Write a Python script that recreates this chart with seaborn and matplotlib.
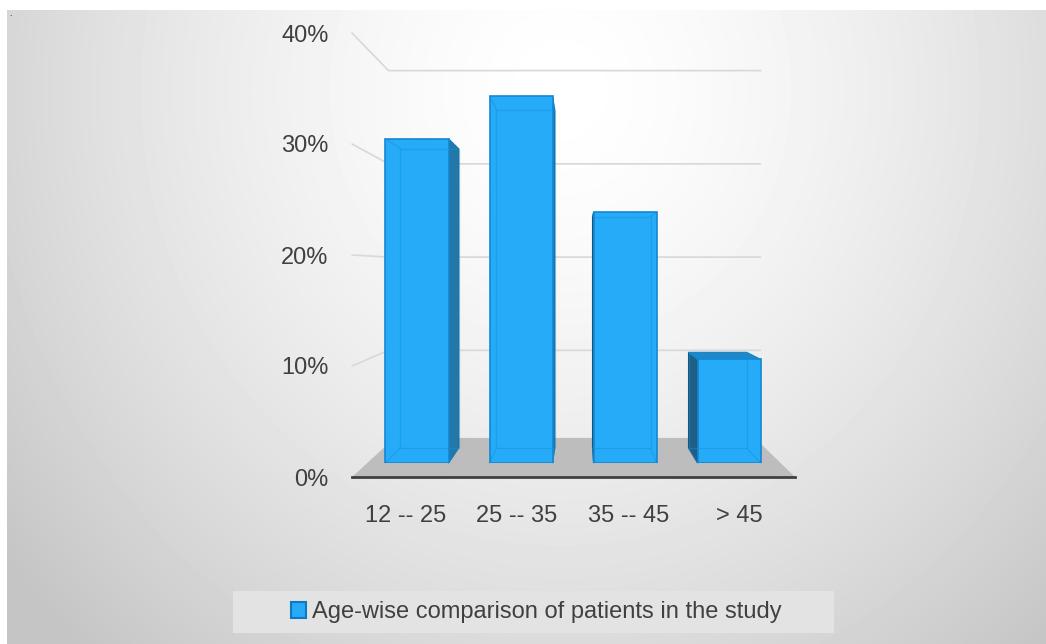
import numpy as np
import pandas as pd
import seaborn as sns
import matplotlib.pyplot as plt
from matplotlib.patches import Polygon, Rectangle, Patch

# Data
categories = ["12 -- 25", "25 -- 35", "35 -- 45", "> 45"]
share = [31.3, 35.4, 24.2, 10.0]
y_ticks = [0, 10, 20, 30, 40]
series_label = "Age-wise comparison of patients in the study"

W, H = 1046, 644
sns.set_style("white")
plt.rcParams['font.family'] = ['Liberation Sans', 'DejaVu Sans']

df = pd.DataFrame({"Age": categories, "Share": share})

bar_color = '#25abf7'
edge_color = '#1288d2'
text_color = '#404040'

fig = plt.figure(figsize=(W / 100, H / 100), dpi=100, facecolor='white')


def rect(left, top, right, bottom):
    return [left / W, 1 - bottom / H, (right - left) / W, (bottom - top) / H]


# radial grey background
bg = fig.add_axes(rect(7, 10, W, H))
bg.axis('off')
yy, xx = np.mgrid[10:H, 7:W]
r = np.sqrt(((xx - 560) / 700.0) ** 2 + ((yy - 90) / 760.0) ** 2)
shade = 255 - 58 * np.clip(r, 0, 1) ** 1.5
bg.imshow(shade, cmap='gray', vmin=0, vmax=255, aspect='auto', interpolation='bilinear')

# fake 3D: vanishing point and depth scales (pixels)
VP = (580, 268)
front_box = (352, 33, 795, 477)
S_BAR, S_BAR_BACK, S_FLOOR, S_WALL = 0.933, 0.861, 0.813, 0.84


def scaled(box, s):
    l, t, r_, b = box
    return (VP[0] + (l - VP[0]) * s, VP[1] + (t - VP[1]) * s,
            VP[0] + (r_ - VP[0]) * s, VP[1] + (b - VP[1]) * s)


def push(pts, k, c):
    return [(c[0] + (x - c[0]) * k, c[1] + (y - c[1]) * k) for x, y in pts]


def vp_data(a):
    return a.transData.inverted().transform((VP[0], H - VP[1]))


xlim = (-0.478, 3.495)
ylim = (0, 40)

ax = fig.add_axes(rect(*front_box))
ax.set_facecolor('none')
ax_bar = fig.add_axes(rect(*scaled(front_box, S_BAR)))
ax_bar.set_facecolor('none')

sns.barplot(data=df, x="Age", y="Share", ax=ax_bar, color=bar_color, saturation=1,
            width=0.606, edgecolor=edge_color, linewidth=1.2)
ax_bar.set_xlim(xlim)
ax_bar.set_ylim(ylim)
ax_bar.axis('off')

# front plane axis: labels, floor, back wall grid
ax.set_xlim(xlim)
ax.set_ylim(ylim)
ax.set_xticks(range(len(categories)), categories)
ax.set_yticks(y_ticks, [f"{t}%" for t in y_ticks])
ax.tick_params(axis='x', length=0, pad=20, labelsize=17, colors=text_color)
ax.tick_params(axis='y', length=0, pad=17, labelsize=17, colors=text_color)
ax.grid(False)
for side in ['top', 'right', 'left']:
    ax.spines[side].set_visible(False)
ax.spines['bottom'].set_color(text_color)
ax.spines['bottom'].set_linewidth(2)
ax.spines['bottom'].set_zorder(3)

c = vp_data(ax)
xl, xr = xlim
floor = [(xl, 0), (xr, 0)] + push([(xr, 0), (xl, 0)], S_FLOOR, c)
ax.add_patch(Polygon(floor, closed=True, fc='#bdbdbd', ec='none', clip_on=False, zorder=1))
for g in y_ticks[1:]:
    pts = [(xl, g)] + push([(xl, g), (xr, g)], S_WALL, c)
    xs, ys = zip(*pts)
    ax.plot(xs, ys, color='#d8d8d8', lw=1.2, clip_on=False, zorder=0.5)

# depth faces of the bars
cb = vp_data(ax_bar)
k = S_BAR_BACK / S_BAR
for p in list(ax_bar.patches):
    x0 = p.get_x()
    x1 = x0 + p.get_width()
    y0 = p.get_y()
    y1 = y0 + p.get_height()
    F = [(x0, y0), (x1, y0), (x1, y1), (x0, y1)]
    B = push(F, k, cb)
    if B[1][0] > x1:
        ax_bar.add_patch(Polygon([F[1], F[2], B[2], B[1]], closed=True, fc='#2478a8',
                                 ec='#1a6a99', lw=0.8, clip_on=False, zorder=0.8))
    if B[0][0] < x0:
        ax_bar.add_patch(Polygon([F[0], F[3], B[3], B[0]], closed=True, fc='#1f5e85',
                                 ec='#1a5275', lw=0.8, clip_on=False, zorder=0.8))
    if B[3][1] > y1:
        ax_bar.add_patch(Polygon([F[3], F[2], B[2], B[3]], closed=True, fc='#1e88c8',
                                 ec='#1a7cb8', lw=0.8, clip_on=False, zorder=0.8))
    # edges seen through the front face
    bx, by = zip(*(B + [B[0]]))
    ax_bar.plot(bx, by, color='#1790dc', lw=0.9, alpha=0.45, clip_on=False, zorder=3)
    for f, b in zip(F, B):
        ax_bar.plot([f[0], b[0]], [f[1], b[1]], color='#1790dc', lw=0.9, alpha=0.45,
                    clip_on=False, zorder=3)

# legend box
fig.patches.append(Rectangle((233 / W, 1 - 633 / H), 601 / W, 42 / H, transform=fig.transFigure,
                             fc='#e3e3e3', ec='none', zorder=1))
handle = Patch(fc=bar_color, ec='#0f78c0', lw=1.5)
fig.legend([handle], [series_label], loc='center', bbox_to_anchor=(536 / W, 1 - 612 / H),
           frameon=False, fontsize=17, handlelength=0.65, handleheight=0.65,
           handletextpad=0.25, labelcolor=text_color)

fig.text(9 / W, 1 - 16 / H, '.', fontsize=6, color='black')

fig.savefig("out.png", dpi=100)
